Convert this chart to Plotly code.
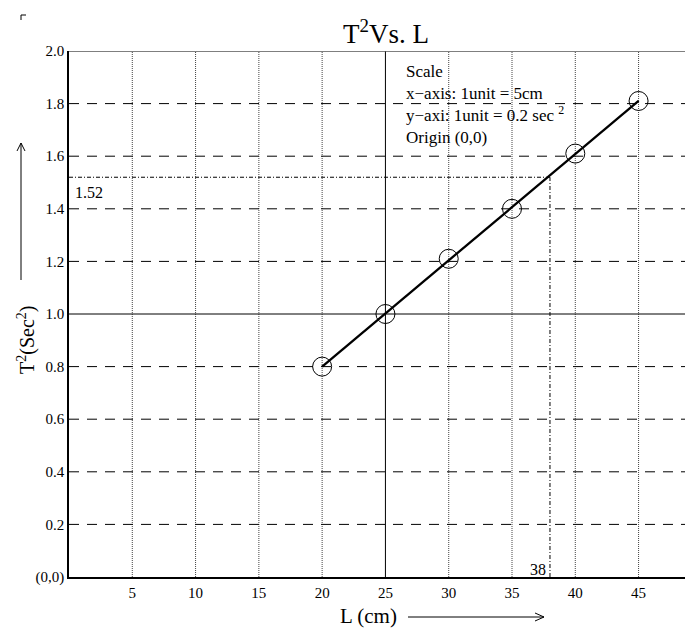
import plotly.graph_objects as go

# Data
L_cm = [20, 25, 30, 35, 40, 45]
T2 = [0.8, 1.0, 1.21, 1.4, 1.61, 1.81]
x_ticks = [5, 10, 15, 20, 25, 30, 35, 40, 45]
x_tick_labels = ["5", "10", "15", "20", "25", "30", "35", "40", "45"]
y_ticks = [0, 0.2, 0.4, 0.6, 0.8, 1.0, 1.2, 1.4, 1.6, 1.8, 2.0]
y_tick_labels = ["(0,0)", "0.2", "0.4", "0.6", "0.8", "1.0", "1.2", "1.4", "1.6", "1.8", "2.0"]
read_L = 38
read_T2 = 1.52

FONT = "Liberation Serif"
XMAX = 49.3

# reference-pixel -> paper helpers (plot area: x 69..693, y 51..577 on screen)
PW, PH = 624.0, 526.0
def px(x):
    return (x - 69) / PW
def py(y):
    return (577 - y) / PH

fig = go.Figure()

fig.add_trace(go.Scatter(
    x=[L_cm[0], L_cm[-1]], y=[T2[0], T2[-1]], mode="lines",
    line=dict(color="black", width=2.3), hoverinfo="skip", showlegend=False))
fig.add_trace(go.Scatter(
    x=L_cm, y=T2, mode="markers",
    marker=dict(symbol="circle-open", size=19, color="black", line=dict(width=1)),
    showlegend=False))

shapes = []
for xv in x_ticks:
    shapes.append(dict(type="line", xref="x", yref="y", x0=xv, x1=xv, y0=0, y1=2.0,
                       line=dict(color="#444" if xv != 25 else "black", width=1,
                                 dash="solid" if xv == 25 else "1px,1px"),
                       layer="below"))
for yv in y_ticks[1:-1]:
    shapes.append(dict(type="line", xref="x", yref="y", x0=0, x1=XMAX, y0=yv, y1=yv,
                       line=dict(color="black", width=1,
                                 dash="solid" if abs(yv - 1.0) < 1e-9 else "10px,8px"),
                       layer="below"))
# top border
shapes.append(dict(type="line", xref="x", yref="y", x0=0, x1=XMAX, y0=2.0, y1=2.0,
                   line=dict(color="#555", width=1.5)))
# reading lines
shapes.append(dict(type="line", xref="x", yref="y", x0=0, x1=read_L, y0=read_T2, y1=read_T2,
                   line=dict(color="black", width=1, dash="4px,2px,1px,2px")))
shapes.append(dict(type="line", xref="x", yref="y", x0=read_L, x1=read_L, y0=0, y1=read_T2,
                   line=dict(color="black", width=1, dash="4px,2px,1px,2px")))
# corner mark
shapes.append(dict(type="path", xref="paper", yref="paper",
                   path="M %f %f L %f %f L %f %f" % (px(21), py(20), px(21), py(15), px(26), py(15)),
                   line=dict(color="black", width=1)))
# y-axis title arrow
shapes.append(dict(type="line", xref="paper", yref="paper", x0=px(21), x1=px(21), y0=py(280), y1=py(143),
                   line=dict(color="black", width=1)))
shapes.append(dict(type="path", xref="paper", yref="paper",
                   path="M %f %f L %f %f L %f %f" % (px(17), py(151), px(21), py(143), px(25), py(151)),
                   line=dict(color="black", width=1)))
# x-axis title arrow
shapes.append(dict(type="line", xref="paper", yref="paper", x0=px(408), x1=px(544), y0=py(617), y1=py(617),
                   line=dict(color="black", width=1)))
shapes.append(dict(type="path", xref="paper", yref="paper",
                   path="M %f %f L %f %f L %f %f" % (px(535), py(613), px(544), py(617), px(535), py(621)),
                   line=dict(color="black", width=1)))

C = dict(xref="paper", yref="paper", xanchor="center", yanchor="middle", showarrow=False)
annotations = [
    dict(C, text="T<sup>2</sup>Vs. L", x=px(386), y=py(32),
         font=dict(family=FONT, size=27, color="black")),
    dict(C, text="Scale<br>x\u2212axis: 1unit = 5cm<br>y\u2212axi: 1unit = 0.2 sec <sup>2</sup><br>Origin (0,0)",
         x=px(404), y=py(60), xanchor="left", yanchor="top", align="left",
         font=dict(family=FONT, size=17, color="black")),
    dict(C, text=str(read_T2), x=px(73), y=py(192), xanchor="left",
         font=dict(family=FONT, size=16, color="black")),
    dict(C, text=str(read_L), x=px(548), y=py(569), xanchor="right",
         font=dict(family=FONT, size=16, color="black")),
    dict(C, text="T<sup>2</sup>(Sec<sup>2</sup>)", x=px(26), y=py(340), textangle=-90,
         font=dict(family=FONT, size=20, color="black")),
    dict(C, text="L (cm)", x=px(368), y=py(616),
         font=dict(family=FONT, size=21, color="black")),
]

fig.update_layout(
    width=693, height=628,
    margin=dict(l=61, r=8, t=43, b=59),
    paper_bgcolor="white", plot_bgcolor="white",
    shapes=shapes, annotations=annotations,
    font=dict(family=FONT, size=15, color="black"),
    xaxis=dict(range=[0, XMAX], tickvals=x_ticks, ticktext=x_tick_labels, showgrid=False,
               zeroline=False, showline=True, linecolor="black", linewidth=1.5,
               ticks="", ticklabelstandoff=1, tickfont=dict(family=FONT, size=15)),
    yaxis=dict(range=[0, 2.0], tickvals=y_ticks, ticktext=y_tick_labels, showgrid=False,
               zeroline=False, showline=True, linecolor="black", linewidth=1.5,
               ticks="", ticklabelstandoff=0, tickfont=dict(family=FONT, size=15)),
)

fig.write_html("out.html")
